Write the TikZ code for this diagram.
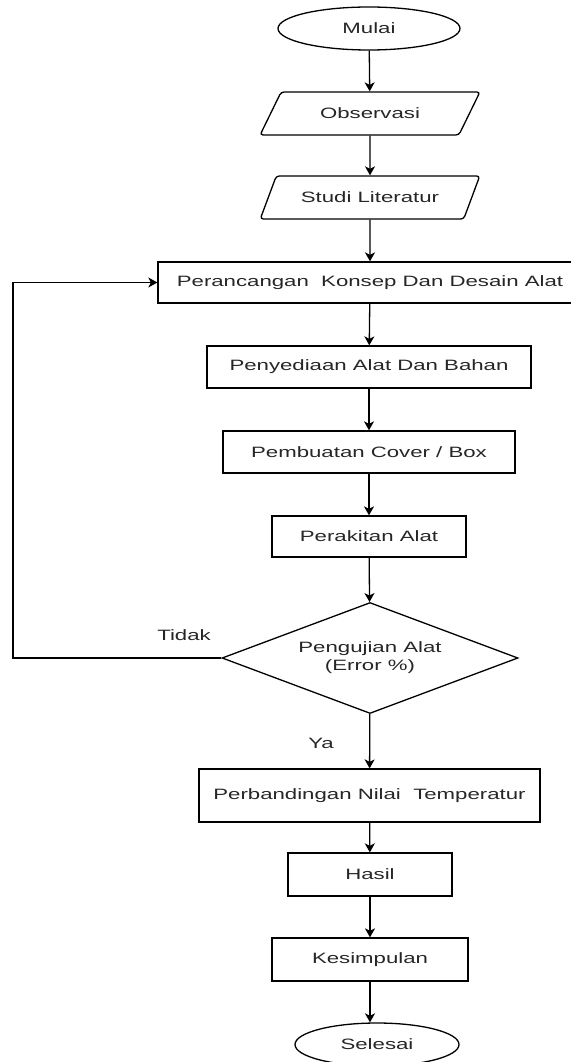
\documentclass[tikz,border=0pt]{standalone}
\usepackage{fontspec}
\setmainfont{Liberation Sans}[FakeStretch=1.48]
\usetikzlibrary{shapes.geometric,arrows.meta}
\begin{document}
\begin{tikzpicture}[x=1pt,y=-1pt,line width=1.3pt,>={Stealth[length=9pt,width=10pt,inset=2.5pt]},
	font=\fontsize{15pt}{18pt}\selectfont,
	kotak/.style={draw,rectangle,inner sep=0pt,text=black!85,minimum height=42pt},
	bulat/.style={draw,ellipse,inner sep=0pt,text=black!85,minimum width=182pt,minimum height=43pt},
	jajar/.style={draw,trapezium,trapezium left angle=43,trapezium right angle=137,trapezium stretches,rounded corners=3pt,inner sep=0pt,text=black!85,minimum width=220pt,minimum height=43pt},
	putusan/.style={draw,diamond,aspect=2.67,inner sep=0pt,text=black!85,align=center,minimum width=296pt,minimum height=111pt}]
			\useasboundingbox(0,0)rectangle(570,1062);
			\node[bulat](mulai)at(369,28.5){Mulai};
			\node[jajar](obs)at(370,113.5){Observasi};
			\node[jajar](studi)at(370,197.5){Studi Literatur};
			\node[kotak,minimum width=424pt,minimum height=41pt](rancang)at(370,282.5){Perancangan\ \ Konsep Dan Desain Alat};
			\node[kotak,minimum width=324pt](sedia)at(369,367){Penyediaan Alat Dan Bahan};
			\node[kotak,minimum width=292pt](cover)at(369,452){Pembuatan Cover / Box};
			\node[kotak,minimum width=194pt,minimum height=41pt](rakit)at(369,536.5){Perakitan Alat};
			\node[putusan](uji)at(370,658){Pengujian Alat\\(Error \%)};
			\node[kotak,minimum width=341pt,minimum height=53pt](banding)at(369.5,795.5){Perbandingan Nilai\ \ Temperatur};
			\node[kotak,minimum width=164pt,minimum height=43pt](hasil)at(370,874.5){Hasil};
			\node[kotak,minimum width=196pt,minimum height=43pt](simpul)at(370,959.5){Kesimpulan};
			\node[bulat,minimum width=164pt](selesai)at(377,1044.5){Selesai};
			\coordinate(kiri)at(13,658);
			% alur utama
			\foreach\a/\b in {mulai/obs,obs/studi,studi/rancang,rancang/sedia,sedia/cover,cover/rakit,rakit/uji,uji/banding,banding/hasil,hasil/simpul}{%
			\draw[->](\a)--(\b);}
			\draw[->](simpul.south)--(simpul.south|-selesai.north);
			% kembali jika gagal
			\draw[->](uji.west)--(kiri)|-(rancang.west);
			\node[text=black!85]at(184,635){Tidak};
			\node[text=black!85]at(321,743){Ya};
		\end{tikzpicture}
\end{document}
